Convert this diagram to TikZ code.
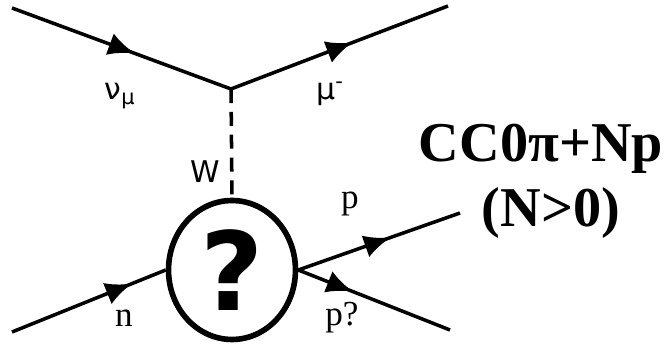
\documentclass[tikz,border=0pt]{standalone}
\usepackage{fontspec}
\setmainfont{Liberation Serif}
\newfontfamily\greekfont{DejaVu Sans}
\newfontfamily\blobfont{DejaVu Sans}
\usetikzlibrary{arrows.meta,decorations.markings,shapes.geometric}
\begin{document}
\begin{tikzpicture}[x=0.02cm, y=-0.02cm,
    line width=2pt,
    fermion/.style={postaction={decorate}, decoration={markings,
        mark=at position #1 with {\arrow{Latex[length=15pt,width=13pt]}}}},
    lbl/.style={font=\fontsize{20}{22}\selectfont},
    glbl/.style={font=\greekfont\fontsize{17}{19}\selectfont},
    big/.style={font=\fontsize{32}{36}\selectfont\bfseries, anchor=base}]
  \useasboundingbox (0,0) rectangle (671,350);
  % vertices and free ends
  \coordinate (v) at (231,89);
  \coordinate (nuin) at (12,8);
  \coordinate (muout) at (448,6);
  \coordinate (nin) at (12,332);
  \coordinate (pout) at (460,213);
  \coordinate (pqout) at (450,330);
  \node[ellipse, draw, line width=3.2pt, minimum width=2.54cm,
        minimum height=2.78cm, inner sep=0pt] (blob) at (232,270)
        {\blobfont\fontsize{62}{66}\selectfont\bfseries ?};
  % lines
  \draw[fermion=0.56] (nuin) -- (v);
  \draw[fermion=0.56] (v) -- (muout);
  \draw[dashed, dash pattern=on 8pt off 5pt] (v) -- (blob.north);
  \draw[fermion=0.78] (nin) -- (blob.west);
  \draw[fermion=0.57] (blob.east) -- (pout);
  \draw[fermion=0.36] (blob.east) -- (pqout);
  % labels
  \node[glbl] (numu) at (120,96) {ν\textsubscript{μ}};
  \node[glbl] (mu) at (330,94) {μ\textsuperscript{-}};
  \node[glbl] (w) at (205,172) {W};
  \node[lbl] (n) at (124,318) {n};
  \node[lbl] (p) at (350,204) {p};
  \node[lbl] (pq) at (342,318) {p?};
  \node[big] (title) at (541,162) {CC0π+Np};
  \node[big] (cond) at (551,227) {(N>0)};
\end{tikzpicture}
\end{document}
